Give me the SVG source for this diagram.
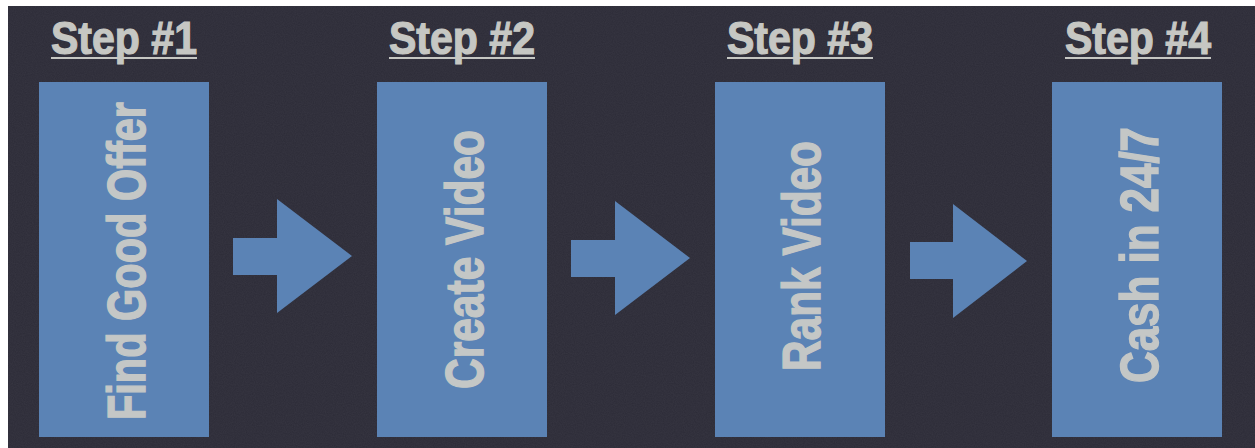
<svg xmlns="http://www.w3.org/2000/svg" width="1255" height="448" viewBox="0 0 1255 448">
  <defs>
    <filter id="grain" x="0" y="0" width="100%" height="100%">
      <feTurbulence type="fractalNoise" baseFrequency="0.9" numOctaves="2" seed="3" result="n"/>
      <feColorMatrix type="matrix" values="0 0 0 0 0.45  0 0 0 0 0.45  0 0 0 0 0.5  0 0 0 0.08 0"/>
    </filter>
  </defs>
  <style>
    .bg { fill: #2c2b37; }
    .box { fill: #5b83b5; }
    .arrow { fill: #5b83b5; }
    .head { font-family: "Liberation Sans", Arial, sans-serif; font-weight: bold; font-size: 46px; fill: #c6c7c3; stroke: #c6c7c3; stroke-width: 1.2; text-anchor: middle; }
    .uline { stroke: #c6c7c3; stroke-width: 2.2; }
    .label { font-family: "Liberation Sans", Arial, sans-serif; font-weight: bold; font-size: 53px; fill: #c4c7c6; stroke: #c4c7c6; stroke-width: 1.4; text-anchor: middle; }
  </style>
  <rect x="0" y="0" width="1255" height="448" fill="#ffffff"/>
  <rect class="bg" x="8" y="6" width="1247" height="442"/>
  <rect x="8" y="6" width="1247" height="442" filter="url(#grain)"/>

  <g id="step1">
    <text class="head" x="124" y="54" textLength="146" lengthAdjust="spacingAndGlyphs">Step #1</text>
    <line class="uline" x1="51" y1="58" x2="197" y2="58"/>
    <rect class="box" x="39" y="82" width="170" height="355"/>
    <text class="label" transform="translate(145,261) rotate(-90)" textLength="318" lengthAdjust="spacingAndGlyphs">Find Good Offer</text>
  </g>

  <g id="step2">
    <text class="head" x="462" y="54" textLength="146" lengthAdjust="spacingAndGlyphs">Step #2</text>
    <line class="uline" x1="389" y1="58" x2="535" y2="58"/>
    <rect class="box" x="377" y="82" width="170" height="355"/>
    <text class="label" transform="translate(483,259.5) rotate(-90)" textLength="259" lengthAdjust="spacingAndGlyphs">Create Video</text>
  </g>

  <g id="step3">
    <text class="head" x="800" y="54" textLength="146" lengthAdjust="spacingAndGlyphs">Step #3</text>
    <line class="uline" x1="727" y1="58" x2="873" y2="58"/>
    <rect class="box" x="715" y="82" width="170" height="355"/>
    <text class="label" transform="translate(820,256) rotate(-90)" textLength="230" lengthAdjust="spacingAndGlyphs">Rank Video</text>
  </g>

  <g id="step4">
    <text class="head" x="1138" y="54" textLength="146" lengthAdjust="spacingAndGlyphs">Step #4</text>
    <line class="uline" x1="1065" y1="58" x2="1211" y2="58"/>
    <rect class="box" x="1052" y="82" width="170" height="355"/>
    <text class="label" transform="translate(1158,255) rotate(-90)" textLength="256" lengthAdjust="spacingAndGlyphs">Cash in 24/7</text>
  </g>

  <g id="connectors">
    <polygon class="arrow" points="233,238 277,238 277,199 352,256 277,313 277,275 233,275"/>
    <polygon class="arrow" points="571,240 615,240 615,201 690,258 615,315 615,277 571,277"/>
    <polygon class="arrow" points="910,242 953,242 953,204 1027,261 953,318 953,279 910,279"/>
  </g>
</svg>
